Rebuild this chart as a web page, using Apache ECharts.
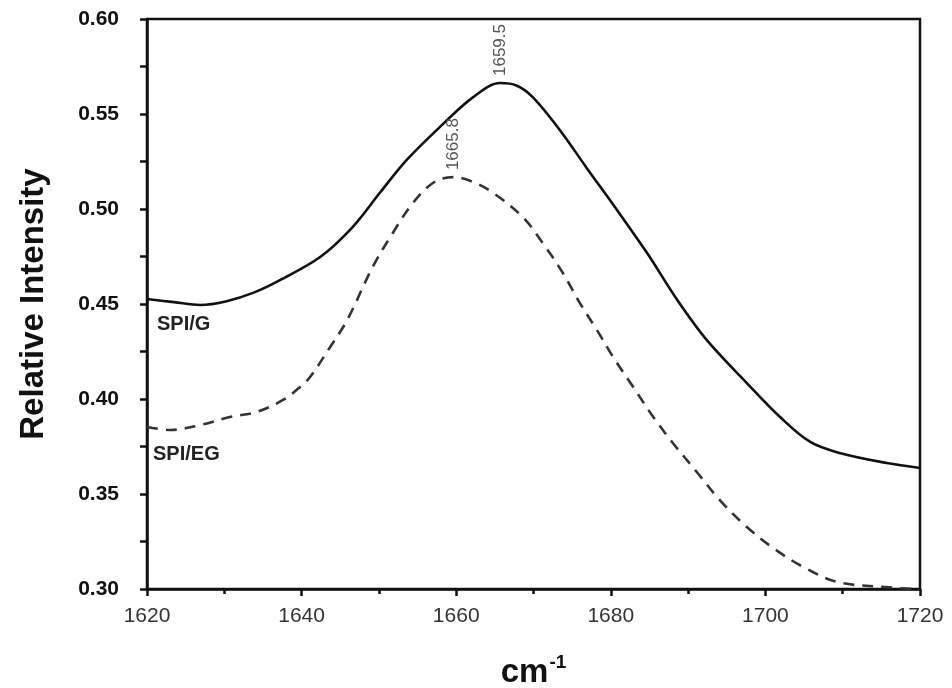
<!DOCTYPE html>
<html>
<head>
<meta charset="utf-8">
<script src="https://cdn.jsdelivr.net/npm/echarts@6/dist/echarts.min.js"></script>
<style>
  html, body { margin: 0; padding: 0; background: #fff; }
  #container { width: 952px; height: 688px; }
</style>
</head>
<body>
<div id="container"></div>
<script>
// wavenumber (cm-1) / relative intensity
var spiG = [
    [1620, 0.4526], [1623.5, 0.4510], [1626.9, 0.4495], [1630.3, 0.4515],
    [1633.8, 0.4560], [1637.2, 0.4626], [1642.4, 0.4747], [1646.6, 0.4905],
    [1650.1, 0.5084], [1653.6, 0.5258], [1657.9, 0.5432], [1662.2, 0.5589],
    [1665.7, 0.5663], [1667.8, 0.5650], [1669.9, 0.5589], [1673.4, 0.5416],
    [1676.9, 0.5215], [1680.8, 0.4995], [1684.7, 0.4768], [1688.6, 0.4521],
    [1692.4, 0.4311], [1697.6, 0.4084], [1701.9, 0.3905], [1705.8, 0.3774],
    [1709.6, 0.3716], [1715.7, 0.3663], [1720, 0.3637]
];
var spiEG = [
    [1620, 0.3853], [1623.0, 0.3837], [1626.9, 0.3863], [1630.7, 0.3905],
    [1634.2, 0.3932], [1637.6, 0.3995], [1639.8, 0.4063], [1641.1, 0.4116],
    [1643.7, 0.4274], [1645.9, 0.4416], [1649.2, 0.4695], [1651.8, 0.4874],
    [1654.4, 0.5032], [1657.0, 0.5137], [1659.6, 0.5168], [1662.2, 0.5142],
    [1664.8, 0.5084], [1668.6, 0.4958], [1671.2, 0.4821], [1673.8, 0.4663],
    [1676.0, 0.4505], [1678.2, 0.4363], [1680.3, 0.4221], [1682.9, 0.4063],
    [1685.5, 0.3905], [1688.0, 0.3770], [1691.2, 0.3612], [1694.1, 0.3468],
    [1697.6, 0.3326], [1701.0, 0.3216], [1704.9, 0.3116], [1709.3, 0.3037],
    [1715.2, 0.3011], [1720, 0.2998]
];
// peak annotations (text as printed on the figure)
var peakG = { coord: [1665.7, 0.5663], text: '1659.5' };
var peakEG = { coord: [1659.6, 0.5168], text: '1665.8' };
var seriesNames = ['SPI/G', 'SPI/EG'];

var FONT = 'Liberation Sans, Arial, sans-serif';
var dom = document.getElementById('container');
var myChart = echarts.init(dom);

function peakMark(p) {
    return {
        symbol: 'circle',
        symbolSize: 0,
        data: [{ coord: p.coord, value: p.text }],
        label: {
            show: true,
            formatter: p.text,
            position: 'top',
            distance: 7,
            rotate: 90,
            align: 'left',
            verticalAlign: 'middle',
            color: '#555',
            fontSize: 17,
            fontFamily: FONT
        }
    };
}

var option = {
    animation: false,
    backgroundColor: '#fff',
    grid: {
        left: 147,
        right: 32,
        top: 19,
        bottom: 99,
        outerBoundsMode: 'none',
        containLabel: false,
        show: true,
        borderColor: '#111',
        borderWidth: 2.5,
        backgroundColor: 'transparent'
    },
    xAxis: {
        type: 'value',
        min: 1620,
        max: 1720,
        interval: 20,
        name: '{b|cm}{s|-1}',
        nameLocation: 'middle',
        nameGap: 64,
        nameTextStyle: {
            rich: {
                b: { fontSize: 33, fontWeight: 'bold', color: '#111', fontFamily: FONT, lineHeight: 40 },
                s: { fontSize: 19, fontWeight: 'bold', color: '#111', fontFamily: FONT, verticalAlign: 'top', lineHeight: 40, padding: [0, 0, 16, 1] }
            }
        },
        axisLine: { show: true, lineStyle: { color: '#111', width: 2.5 } },
        axisTick: { show: true, inside: false, length: 7, lineStyle: { color: '#111', width: 2.5 } },
        minorTick: { show: true, splitNumber: 2, length: 5, lineStyle: { color: '#111', width: 2.5 } },
        splitLine: { show: false },
        axisLabel: {
            margin: 17,
            color: '#333',
            fontSize: 21,
            fontFamily: FONT,
            formatter: function (v) { return String(v); }
        }
    },
    yAxis: {
        type: 'value',
        min: 0.30,
        max: 0.60,
        interval: 0.05,
        name: 'Relative Intensity',
        nameLocation: 'middle',
        nameGap: 97,
        nameTextStyle: {
            color: '#111',
            fontSize: 33,
            fontWeight: 'bold',
            fontFamily: FONT
        },
        axisLine: { show: true, lineStyle: { color: '#111', width: 2.5 } },
        axisTick: { show: true, inside: false, length: 7, lineStyle: { color: '#111', width: 2.5 } },
        minorTick: { show: true, splitNumber: 2, length: 7, lineStyle: { color: '#111', width: 2.5 } },
        splitLine: { show: false },
        axisLabel: {
            margin: 28,
            color: '#111',
            fontSize: 21,
            fontWeight: 'bold',
            fontFamily: FONT,
            formatter: function (v) { return v.toFixed(2); }
        }
    },
    graphic: [
        {
            type: 'text',
            left: 157,
            top: 314,
            style: { text: seriesNames[0], fill: '#222', font: 'bold 20px "Liberation Sans", Arial, sans-serif' }
        },
        {
            type: 'text',
            left: 153,
            top: 444,
            style: { text: seriesNames[1], fill: '#222', font: 'bold 20px "Liberation Sans", Arial, sans-serif' }
        }
    ],
    series: [
        {
            name: seriesNames[0],
            type: 'line',
            data: spiG,
            smooth: 0.35,
            showSymbol: false,
            lineStyle: { color: '#111', width: 2.6 },
            markPoint: peakMark(peakG)
        },
        {
            name: seriesNames[1],
            type: 'line',
            data: spiEG,
            smooth: 0.35,
            showSymbol: false,
            lineStyle: { color: '#333', width: 2.6, type: [11, 8] },
            markPoint: peakMark(peakEG)
        }
    ]
};

if (option && typeof option === 'object') {
    myChart.setOption(option, true);
}
</script>
</body>
</html>
